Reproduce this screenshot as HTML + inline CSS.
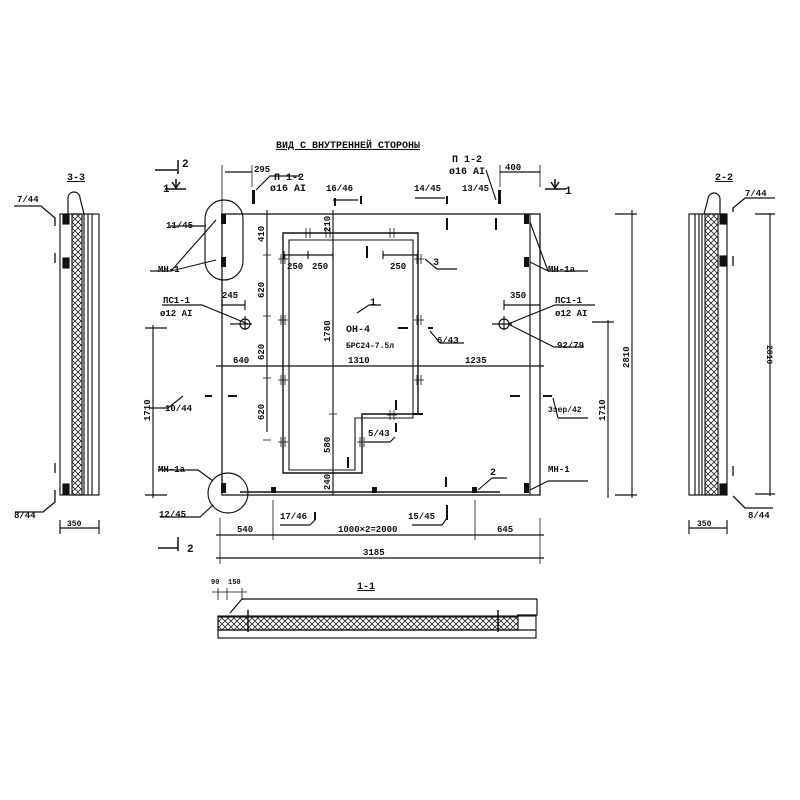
<!DOCTYPE html>
<html><head><meta charset="utf-8"><style>
html,body{margin:0;padding:0;background:#fff}
svg{display:block}
text{font-family:"Liberation Mono","DejaVu Sans Mono",monospace;font-weight:bold;fill:#111}
</style></head><body>
<svg width="800" height="800" viewBox="0 0 800 800" xmlns="http://www.w3.org/2000/svg">
<defs>
<pattern id="x" width="6" height="6" patternUnits="userSpaceOnUse">
<path d="M0 0L6 6M6 0L0 6" stroke="#222" stroke-width="0.8"/>
</pattern>
</defs>
<g stroke="#111" fill="none" stroke-width="1.15">
<text x="276" y="148" font-size="10" stroke="none" style="text-decoration:underline">ВИД С ВНУТРЕННЕЙ СТОРОНЫ</text>

<path d="M222 495 L222 214 L540 214 L540 495 Z" stroke-width="1.3"/>
<line x1="530" y1="214" x2="530" y2="495"/>
<line x1="240" y1="492" x2="500" y2="492" stroke-width="1.5"/>
<path d="M283 473 L283 233 L418 233 L418 414 L362 414 L362 473 Z" stroke-width="1.4"/>
<path d="M289 470 L289 240 L413 240 L413 418 L355 418 L355 470 Z" stroke-width="1.1"/>
<line x1="413" y1="414" x2="423" y2="414" stroke-width="2"/>

<rect x="205" y="200" width="38" height="80" rx="19"/>
<circle cx="228" cy="493" r="20"/>

<g fill="#111" stroke="none">
<rect x="221" y="214" width="5" height="10"/><rect x="221" y="257" width="5" height="10"/>
<rect x="524" y="214" width="5" height="10"/><rect x="524" y="257" width="5" height="10"/>
<rect x="524" y="483" width="5" height="10"/><rect x="221" y="483" width="5" height="10"/>
<rect x="271" y="487" width="5" height="6"/><rect x="372" y="487" width="5" height="6"/><rect x="472" y="487" width="5" height="6"/>
<rect x="252" y="190" width="3" height="14"/><rect x="498" y="190" width="3" height="14"/>
</g>
<g stroke-width="2">
<line x1="361" y1="196" x2="361" y2="204"/><line x1="447" y1="196" x2="447" y2="204"/>
<line x1="447" y1="218" x2="447" y2="230"/><line x1="496" y1="218" x2="496" y2="230"/>
<line x1="367" y1="246" x2="367" y2="258"/><line x1="446" y1="477" x2="446" y2="487"/>
<line x1="348" y1="457" x2="348" y2="468"/><line x1="396" y1="400" x2="396" y2="410"/>
<line x1="396" y1="423" x2="396" y2="432"/>
<line x1="398" y1="328" x2="408" y2="328"/><line x1="428" y1="328" x2="433" y2="328"/>
<line x1="228" y1="396" x2="237" y2="396"/><line x1="510" y1="396" x2="520" y2="396"/>
<line x1="205" y1="396" x2="212" y2="396"/><line x1="543" y1="396" x2="552" y2="396"/>
<line x1="315" y1="512" x2="315" y2="520"/><line x1="447" y1="505" x2="447" y2="520"/>
<line x1="335" y1="198" x2="335" y2="206"/>
</g>
<g stroke-width="0.8">
<path d="M306 228v10M310 228v10M303 233h10"/><path d="M326 228v10M330 228v10M323 233h10"/>
<path d="M390 228v10M394 228v10M387 233h10"/>
<path d="M281 254v10M285 254v10M278 259h10"/><path d="M417 254v10M421 254v10M414 259h10"/>
<path d="M281 315v10M285 315v10M278 320h10"/><path d="M417 315v10M421 315v10M414 320h10"/>
<path d="M281 375v10M285 375v10M278 380h10"/><path d="M417 375v10M421 375v10M414 380h10"/>
<path d="M281 437v10M285 437v10M278 442h10"/>
<path d="M390 410v10M394 410v10M387 415h10"/><path d="M360 437v10M364 437v10M357 442h10"/>
</g>
<circle cx="245" cy="324" r="5"/><path d="M230 324h22M245 316v14"/>
<circle cx="504" cy="324" r="5"/><path d="M492 324h20M504 316v14"/>

<line x1="267" y1="210" x2="267" y2="432"/>
<g stroke-width="0.8"><path d="M263 214h8M263 255h8M263 316h8M263 378h8M263 440h8"/></g>
<line x1="333" y1="210" x2="333" y2="495"/>
<path d="M329 214h8M329 233h8M329 414h8M329 473h8M329 495h8" stroke-width="0.8"/>
<line x1="284" y1="255" x2="333" y2="255"/><path d="M284 251v8M308 251v8M333 251v8"/>
<line x1="383" y1="255" x2="418" y2="255"/><path d="M383 251v8M418 251v8"/>
<line x1="222" y1="305" x2="245" y2="305"/><path d="M245 300v10M222 300v10"/>
<line x1="504" y1="305" x2="540" y2="305"/><path d="M504 300v10"/>
<line x1="216" y1="366" x2="544" y2="366"/>
<path d="M222 362v8M283 362v8M418 362v8M540 362v8" stroke-width="0.8"/>
<line x1="216" y1="535" x2="544" y2="535"/><line x1="216" y1="558" x2="544" y2="558"/>
<path d="M220 518v46M273 500v40M475 500v40M540 518v46" stroke-width="0.8"/>
<line x1="225" y1="172" x2="252" y2="172"/><path d="M222 165v50M252 165v22" stroke-width="0.8"/>
<line x1="500" y1="172" x2="540" y2="172"/><path d="M500 165v22M540 165v22" stroke-width="0.8"/>
<line x1="632" y1="210" x2="632" y2="498"/><path d="M615 214h22M615 495h22"/>
<line x1="608" y1="320" x2="608" y2="498"/><path d="M592 322h22"/>
<line x1="153" y1="325" x2="153" y2="498"/><path d="M145 328h22M145 495h22"/>

<path d="M178 160v14M155 170h22" stroke-width="1.5"/>
<path d="M176 179v10M165 189h21M172 182l4 6l4-6" stroke-width="1.5"/>
<path d="M178 537v14M158 548h20" stroke-width="1.5"/>
<path d="M555 179v10M545 189h21M551 182l4 6l4-6" stroke-width="1.5"/>

<path d="M171 271L216 220M171 271L216 260M150 271h22"/>
<path d="M170 226h36"/>
<path d="M256 190L270 176h30"/>
<path d="M548 271L530 222M548 271L530 262M548 271h40"/>
<path d="M248 324L202 305h-40"/>
<path d="M508 324L555 305h40M508 324L554 347h30"/>
<path d="M168 408l15-12M150 408h18"/>
<path d="M558 418l-5-20M558 418h30"/>
<path d="M213 481L198 470h-40"/>
<path d="M213 505L200 517h-40"/>
<path d="M548 481L530 490M548 481h40"/>
<path d="M478 490L492 478h15"/>
<path d="M425 259l12 10h20"/>
<path d="M430 331l10 12h24"/>
<path d="M395 437l-5 5h-25"/>
<path d="M357 313l12-8h12"/>
<path d="M315 520l-5 5h-30"/>
<path d="M447 518l-5 7h-30"/>
<path d="M358 200h-25"/><path d="M445 198h-30"/><path d="M496 200l-10-30"/>

<rect x="60" y="214" width="39" height="281"/>
<rect x="72" y="214" width="10" height="281" fill="url(#x)"/>
<path d="M84 214v281M88 214v281M92 214v281"/>
<path d="M68 214v-16a6 6 0 0 1 12 0l4 16" stroke-width="1.2"/>
<rect x="63" y="214" width="6" height="10" fill="#111"/><rect x="63" y="258" width="6" height="10" fill="#111"/><rect x="63" y="484" width="6" height="10" fill="#111"/>
<path d="M14 206h27l14 12v8M55 253v10M55 463v10M55 490v12l-12 10h-28" stroke-width="1.3"/>
<line x1="60" y1="528" x2="99" y2="528"/><path d="M60 520v14M99 520v14"/>

<rect x="689" y="214" width="38" height="281"/>
<rect x="705" y="214" width="13" height="281" fill="url(#x)"/>
<path d="M695 214v281M699 214v281M702 214v281"/>
<path d="M704 214l4-15a6 6 0 0 1 12 0v15" stroke-width="1.2"/>
<rect x="720" y="214" width="6" height="10" fill="#111"/><rect x="720" y="256" width="6" height="10" fill="#111"/><rect x="720" y="484" width="6" height="10" fill="#111"/>
<path d="M733 212v-4l12-10h30M733 256v10M733 466v10M733 496l12 12h28" stroke-width="1.3"/>
<line x1="770" y1="213" x2="770" y2="496"/><path d="M755 214h20M755 494h20"/>
<line x1="689" y1="528" x2="727" y2="528"/><path d="M689 520v14M727 520v14"/>

<path d="M230 613l12-14h295v16h-20"/>
<rect x="218" y="616" width="318" height="22"/>
<rect x="218" y="617" width="300" height="13" fill="url(#x)"/>
<line x1="218" y1="630" x2="536" y2="630"/>
<path d="M248 610v22M498 610v22" stroke-width="1.5"/>
<path d="M218 600v-12M227 600v-12M242 600v-12M212 592h35" stroke-width="0.8"/>
</g>

<g stroke="none" font-size="9">
<text x="254" y="172">295</text>
<text x="505" y="170">400</text>
<text x="274" y="180" font-size="10">П 1-2</text>
<text x="270" y="191" font-size="10">ø16 AI</text>
<text x="452" y="162" font-size="10">П 1-2</text>
<text x="449" y="174" font-size="10">ø16 AI</text>
<text x="326" y="191">16/46</text>
<text x="414" y="191">14/45</text>
<text x="462" y="191">13/45</text>
<text x="182" y="167" font-size="11">2</text>
<text x="163" y="192" font-size="11">1</text>
<text x="565" y="194" font-size="11">1</text>
<text x="166" y="228">11/45</text>
<text x="158" y="272">МН-1</text>
<text x="548" y="272">МН-1а</text>
<text x="163" y="303">ПС1-1</text>
<text x="160" y="316">ø12 AI</text>
<text x="555" y="303">ПС1-1</text>
<text x="555" y="316">ø12 AI</text>
<text x="557" y="348">92/79</text>
<text x="222" y="298">245</text>
<text x="510" y="298">350</text>
<text x="233" y="363">640</text>
<text x="348" y="363">1310</text>
<text x="465" y="363">1235</text>
<text x="165" y="411">10/44</text>
<text x="548" y="412" font-size="8">Зэер/42</text>
<text x="158" y="472">МН-1а</text>
<text x="159" y="517">12/45</text>
<text x="548" y="472">МН-1</text>
<text x="280" y="519">17/46</text>
<text x="408" y="519">15/45</text>
<text x="490" y="475" font-size="10">2</text>
<text x="433" y="265" font-size="10">3</text>
<text x="437" y="343">6/43</text>
<text x="368" y="436">5/43</text>
<text x="370" y="305" font-size="10">1</text>
<text x="346" y="332" font-size="10">ОН-4</text>
<text x="346" y="348" font-size="8">БРС24-7.5л</text>
<text x="287" y="269">250</text>
<text x="312" y="269">250</text>
<text x="390" y="269">250</text>
<text x="237" y="532">540</text>
<text x="338" y="532">1000×2=2000</text>
<text x="497" y="532">645</text>
<text x="363" y="555">3185</text>
<text x="67" y="180" font-size="10" style="text-decoration:underline">3-3</text>
<text x="715" y="180" font-size="10" style="text-decoration:underline">2-2</text>
<text x="17" y="202">7/44</text>
<text x="745" y="196">7/44</text>
<text x="14" y="518">8/44</text>
<text x="748" y="518">8/44</text>
<text x="67" y="526" font-size="8">350</text>
<text x="697" y="526" font-size="8">350</text>
<text x="357" y="589" font-size="10" style="text-decoration:underline">1-1</text>
<text x="211" y="584" font-size="7">90</text>
<text x="228" y="584" font-size="7">150</text>
<text x="187" y="552" font-size="11">2</text>
<g font-size="9">
<text transform="translate(264 242) rotate(-90)">410</text>
<text transform="translate(264 298) rotate(-90)">620</text>
<text transform="translate(264 360) rotate(-90)">620</text>
<text transform="translate(264 420) rotate(-90)">620</text>
<text transform="translate(330 232) rotate(-90)">210</text>
<text transform="translate(330 342) rotate(-90)">1780</text>
<text transform="translate(330 453) rotate(-90)">580</text>
<text transform="translate(330 490) rotate(-90)">240</text>
<text transform="translate(150 421) rotate(-90)">1710</text>
<text transform="translate(605 421) rotate(-90)">1710</text>
<text transform="translate(629 368) rotate(-90)">2810</text>
<text transform="translate(767 345) rotate(90)" font-size="8">2810</text>
</g>
</g>
</svg>
</body></html>
